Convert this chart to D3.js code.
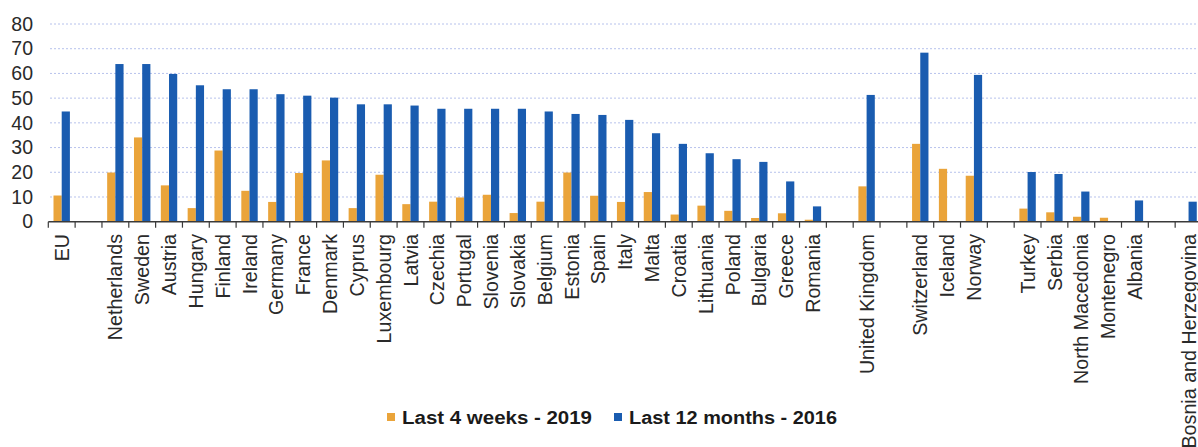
<!DOCTYPE html>
<html>
<head>
<meta charset="utf-8">
<script src="https://cdn.jsdelivr.net/npm/d3@7"></script>
<style>
  html, body { margin: 0; padding: 0; background: #ffffff; overflow: hidden; }
  svg { display: block; font-family: "Liberation Sans", Arial, sans-serif; }
</style>
</head>
<body>
<svg id="chart" width="1198" height="447"></svg>
<script>
// ---- data (empty strings are spacer slots between country groups) ----
const categories = [
  "EU", "",
  "Netherlands", "Sweden", "Austria", "Hungary", "Finland", "Ireland", "Germany",
  "France", "Denmark", "Cyprus", "Luxembourg", "Latvia", "Czechia", "Portugal",
  "Slovenia", "Slovakia", "Belgium", "Estonia", "Spain", "Italy", "Malta",
  "Croatia", "Lithuania", "Poland", "Bulgaria", "Greece", "Romania", "",
  "United Kingdom", "",
  "Switzerland", "Iceland", "Norway", "",
  "Turkey", "Serbia", "North Macedonia", "Montenegro", "Albania", "",
  "Bosnia and Herzegovina"
];
const last4weeks2019 = [
  10.6, null,
  19.9, 34.1, 14.7, 5.5, 28.8, 12.5, 8.0,
  19.7, 24.8, 5.5, 19.0, 7.1, 8.1, 9.8,
  10.9, 3.5, 8.1, 19.9, 10.5, 8.0, 12.0,
  2.9, 6.5, 4.4, 1.5, 3.4, 0.8, null,
  14.3, null,
  31.5, 21.4, 18.6, null,
  5.3, 3.8, 2.0, 1.6, null, null,
  null
];
const last12months2016 = [
  44.6, null,
  63.8, 63.8, 59.8, 55.2, 53.6, 53.6, 51.6,
  51.0, 50.2, 47.5, 47.5, 47.0, 45.7, 45.7,
  45.7, 45.7, 44.6, 43.6, 43.2, 41.2, 35.8,
  31.5, 27.7, 25.3, 24.2, 16.3, 6.2, null,
  51.3, null,
  68.4, null, 59.4, null,
  20.1, 19.3, 12.2, null, 8.6, null,
  8.1
];
const yTicks = [0, 10, 20, 30, 40, 50, 60, 70, 80];
const seriesNames = ["Last 4 weeks - 2019", "Last 12 months - 2016"];
const seriesColors = ["#EAA43A", "#1A5CB0"];

// ---- layout ----
const svg = d3.select("#chart");
const x0 = 48.3, step = 26.83;
const x = d3.scaleBand()
  .domain(d3.range(categories.length))
  .range([x0, x0 + step * categories.length])
  .padding(0);
const x1 = d3.scaleBand().domain([0, 1]).range([5.2, 21.6]).padding(0);
const y = d3.scaleLinear().domain([0, 80]).range([221.7, 24]);

// gridlines
svg.append("g")
  .selectAll("line")
  .data(yTicks.filter(d => d > 0))
  .join("line")
  .attr("x1", 50).attr("x2", 1198)
  .attr("y1", d => y(d)).attr("y2", d => y(d))
  .attr("stroke", "#b7c2ec")
  .attr("stroke-width", 1)
  .attr("stroke-dasharray", "2,2");

// y axis labels
const yAxis = d3.axisLeft(y).tickValues(yTicks).tickSize(0).tickPadding(0);
const gy = svg.append("g").attr("transform", "translate(33,0)").call(yAxis);
gy.select(".domain").remove();
gy.selectAll("text")
  .attr("fill", "#2a2a2a")
  .style("font-size", "19.5px")
  .style("font-family", "\"Liberation Sans\", Arial, sans-serif");

// bars
const seriesData = [last4weeks2019, last12months2016];
seriesData.forEach((vals, si) => {
  svg.append("g")
    .selectAll("rect")
    .data(vals.map((v, i) => ({ i, v })).filter(d => d.v != null))
    .join("rect")
    .attr("x", d => x(d.i) + x1(si))
    .attr("width", x1.bandwidth())
    .attr("y", d => y(d.v))
    .attr("height", d => y(0) - y(d.v))
    .attr("fill", seriesColors[si]);
});

// x axis (line + ticks at slot boundaries)
const gx = svg.append("g");
gx.append("line")
  .attr("x1", x0).attr("x2", 1198)
  .attr("y1", y(0)).attr("y2", y(0))
  .attr("stroke", "#3a3a3a").attr("stroke-width", 1.5);
gx.selectAll("line.tick")
  .data(d3.range(categories.length + 1))
  .join("line")
  .attr("class", "tick")
  .attr("x1", i => x0 + i * step).attr("x2", i => x0 + i * step)
  .attr("y1", y(0)).attr("y2", y(0) + 6)
  .attr("stroke", "#3a3a3a").attr("stroke-width", 1.2);

// x labels (rotated)
svg.append("g")
  .selectAll("text")
  .data(categories.map((c, i) => ({ c, i })).filter(d => d.c !== ""))
  .join("text")
  .attr("transform", d => `translate(${x(d.i) + x.bandwidth() / 2},234) rotate(-90)`)
  .attr("text-anchor", "end")
  .attr("dy", "0.36em")
  .attr("fill", "#2a2a2a")
  .style("font-size", "19.7px")
  .text(d => d.c);

// legend
const legendItems = [
  { name: seriesNames[0], color: seriesColors[0], sx: 387, tx: 402, len: 190 },
  { name: seriesNames[1], color: seriesColors[1], sx: 614, tx: 629, len: 208 }
];
const lg = svg.append("g");
legendItems.forEach(it => {
  lg.append("rect")
    .attr("x", it.sx).attr("y", 413).attr("width", 8).attr("height", 8)
    .attr("fill", it.color);
  lg.append("text")
    .attr("x", it.tx).attr("y", 424)
    .attr("fill", "#1a1a1a")
    .style("font-size", "17.5px")
    .style("font-weight", "bold")
    .attr("textLength", it.len)
    .attr("lengthAdjust", "spacingAndGlyphs")
    .text(it.name);
});
</script>
</body>
</html>
